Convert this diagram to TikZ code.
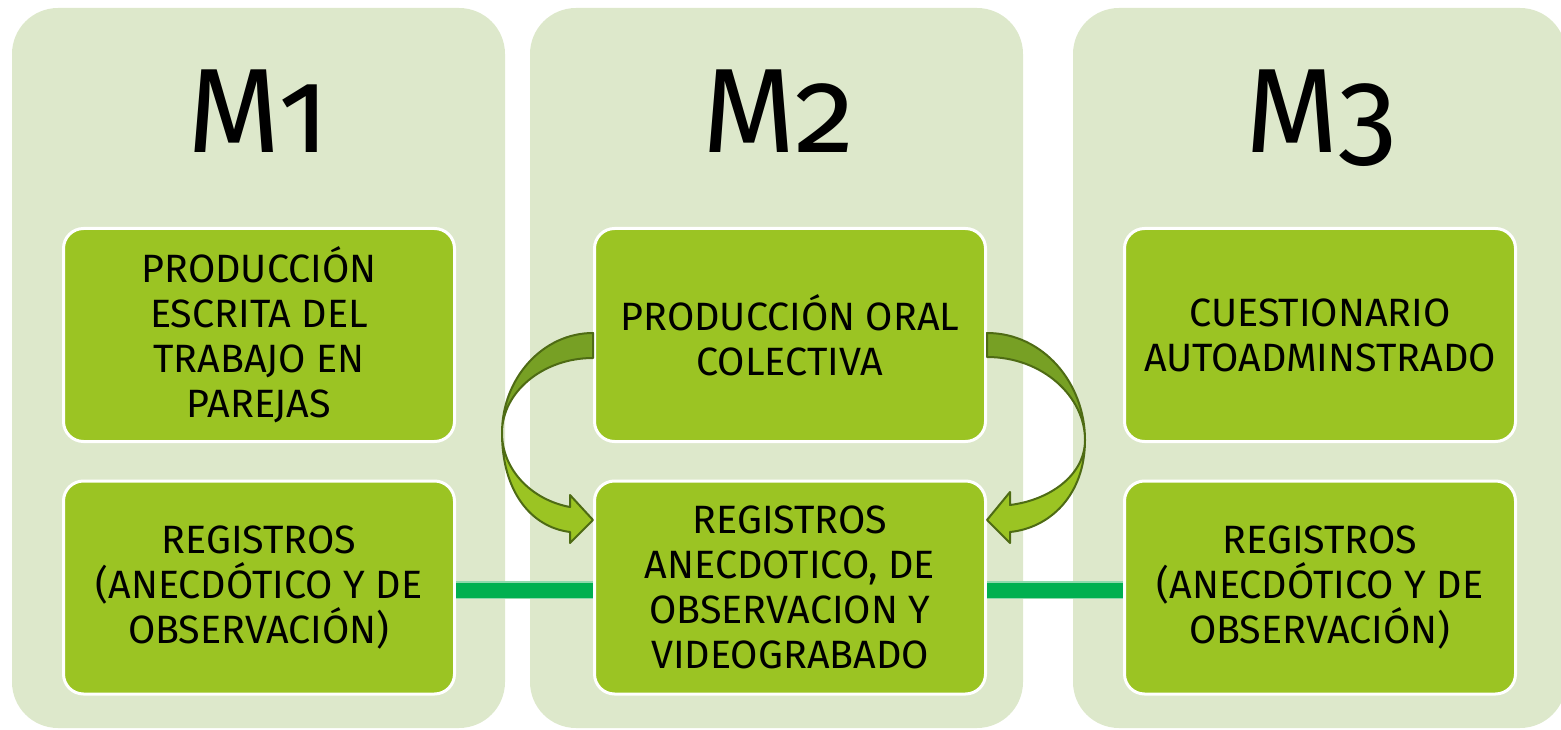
\documentclass[tikz,border=0pt]{standalone}
\usepackage{fontspec}
\setmainfont{Fira Sans}[Numbers=OldStyle]
\definecolor{colbg}{HTML}{DDE8CB}
\definecolor{boxfill}{HTML}{9BC423}
\definecolor{barcol}{HTML}{00B050}
\definecolor{baredge}{HTML}{8FD9AC}
\definecolor{arrdarkc}{HTML}{77A024}
\definecolor{arrline}{HTML}{4E6B14}
\begin{document}
\begin{tikzpicture}[x=1pt,y=-1pt,
  column/.style={fill=colbg, rounded corners=46pt, minimum width=493pt, minimum height=720pt, inner sep=0pt},
  title/.style={font=\fontsize{120}{120}\selectfont, anchor=base, inner sep=0pt},
  box/.style={fill=boxfill, draw=white, line width=3pt, rounded corners=20pt, minimum width=391pt, minimum height=213pt, align=center, font=\fontsize{39.5}{45}\selectfont, inner sep=0pt},
  baredge/.style={draw=baredge, line width=18pt},
  bar/.style={draw=barcol, line width=15pt},
  arrdark/.style={fill=arrdarkc, draw=arrline, line width=2pt, line join=round},
  arrlight/.style={fill=boxfill, draw=arrline, line width=2pt, line join=round}]
\useasboundingbox (0,0) rectangle (1561,730);
\begin{scope}
\clip (0,0) rectangle (1561,730);
\node[column] (c1) at (258.5,368) {};
\node[column] (c2) at (776.5,368) {};
\node[column] (c3) at (1319.5,368) {};
\end{scope}
\node[title] (h1) at (258.5,153) {M1};
\node[title] (h2) at (778.5,153) {M2};
\node[title] (h3) at (1321.5,153) {M3};
\node[box] (t1) at (259,335) {PRODUCCIÓN\\ESCRITA DEL\\TRABAJO EN\\PAREJAS};
\node[box] (b1) at (259,587.5) {REGISTROS\\(ANECDÓTICO Y DE\\OBSERVACIÓN)};
\node[box] (t2) at (790,335) {PRODUCCIÓN ORAL\\COLECTIVA};
\node[box] (b2) at (790,587.5) {REGISTROS\\ANECDOTICO, DE\\OBSERVACION Y\\VIDEOGRABADO};
\node[box] (t3) at (1320,335) {CUESTIONARIO\\AUTOADMINSTRADO};
\node[box] (b3) at (1320,587.5) {REGISTROS\\(ANECDÓTICO Y DE\\OBSERVACIÓN)};
\draw[baredge] ([yshift=-2.5pt]b1.east) -- ([yshift=-2.5pt]b2.west);
\draw[bar] ([yshift=-2.5pt]b1.east) -- ([yshift=-2.5pt]b2.west);
\draw[baredge] ([yshift=-2.5pt]b2.east) -- ([yshift=-2.5pt]b3.west);
\draw[bar] ([yshift=-2.5pt]b2.east) -- ([yshift=-2.5pt]b3.west);
% left curved arrow
\filldraw[arrdark] (593,333) .. controls (543,333) and (502,378) .. (502,433) .. controls (502,392) and (543,358) .. (593,358) -- cycle;
\filldraw[arrlight] (502,433) .. controls (502,490) and (530,527) .. (570,532) -- (570,543) -- (593,520) -- (570,495) -- (570,507) .. controls (532,500) and (502,470) .. (502,433) -- cycle;
% right curved arrow
\filldraw[arrdark] (987,333) .. controls (1043,333) and (1085,383) .. (1085,440) .. controls (1085,397) and (1043,357) .. (987,357) -- cycle;
\filldraw[arrlight] (1085,440) .. controls (1085,495) and (1050,528) .. (1010,532) -- (1010,543) -- (987,520) -- (1010,492) -- (1010,505) .. controls (1050,500) and (1085,475) .. (1085,440) -- cycle;
\end{tikzpicture}
\end{document}
